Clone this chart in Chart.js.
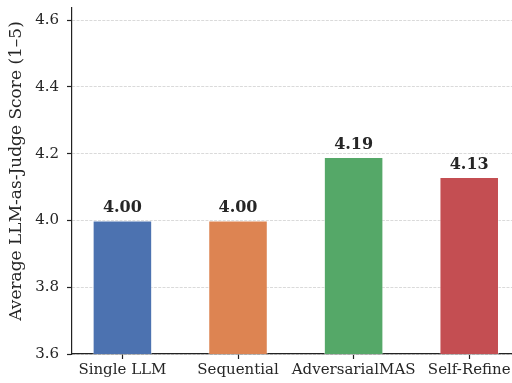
<!DOCTYPE html>
<html>
<head>
<meta charset="utf-8">
<script src="https://cdn.jsdelivr.net/npm/chart.js@4/dist/chart.umd.min.js"></script>
<style>
html,body{margin:0;padding:0;background:#fff;}
#wrap{width:512px;height:383px;position:relative;}
</style>
</head>
<body>
<div id="wrap"><canvas id="c" width="512" height="383"></canvas></div>
<script>
const categories = ["Single LLM", "Sequential", "AdversarialMAS", "Self-Refine"];
const scores = [4.00, 4.00, 4.19, 4.13];
const barColors = ["#4C72B0", "#DD8452", "#55A868", "#C44E52"];
const yTickValues = [3.6, 3.8, 4.0, 4.2, 4.4, 4.6];
const yTitle = "Average LLM-as-Judge Score (1\u20135)";

const FONT = "'DejaVu Serif', serif";
const TXT = "#262626";

const valueLabels = {
  id: "valueLabels",
  afterDatasetsDraw(chart) {
    const ctx = chart.ctx;
    const meta = chart.getDatasetMeta(0);
    ctx.save();
    ctx.font = "bold 16px " + FONT;
    ctx.fillStyle = TXT;
    ctx.textAlign = "center";
    ctx.textBaseline = "alphabetic";
    meta.data.forEach((bar, i) => {
      ctx.fillText(scores[i].toFixed(2), bar.x, bar.y - 8);
    });
    // y-axis title
    ctx.font = "17px " + FONT;
    ctx.textBaseline = "middle";
    ctx.translate(17, 171);
    ctx.rotate(-Math.PI / 2);
    ctx.fillText(yTitle, 0, 0);
    ctx.restore();
  }
};

new Chart(document.getElementById("c"), {
  type: "bar",
  data: {
    datasets: [{
      data: scores.map((v, i) => ({ x: i, y: v })),
      backgroundColor: barColors,
      borderColor: "rgba(255,255,255,0.5)",
      borderWidth: 1,
      barPercentage: 0.515,
      categoryPercentage: 1.0
    }]
  },
  options: {
    responsive: false,
    animation: false,
    devicePixelRatio: 1,
    layout: { padding: { top: 8, right: 0, left: 0, bottom: 0 } },
    plugins: { legend: { display: false }, tooltip: { enabled: false } },
    scales: {
      x: {
        type: "linear",
        offset: false,
        min: -0.436,
        max: 3.37,
        afterBuildTicks: s => { s.ticks = categories.map((_, i) => ({ value: i })); },
        afterFit: s => { s.height = 29; s.paddingLeft = 0; s.paddingRight = 0; s.paddingTop = 0; s.paddingBottom = 0; },
        ticks: {
          callback: v => categories[v],
          font: { family: FONT, size: 15 },
          color: TXT,
          padding: 2,
          maxRotation: 0,
          autoSkip: false
        },
        grid: { offset: false, drawOnChartArea: false, drawTicks: true, tickLength: 5, tickColor: "#222", tickWidth: 1.2 },
        border: { display: true, color: "#222", width: 1.2 }
      },
      y: {
        min: 3.6,
        max: 4.636,
        afterBuildTicks: s => { s.ticks = yTickValues.map(v => ({ value: v })); },
        afterFit: s => { s.width = 72; s.paddingLeft = 0; s.paddingRight = 0; s.paddingTop = 0; s.paddingBottom = 0; },
        ticks: {
          callback: v => Number(v).toFixed(1),
          font: { family: FONT, size: 15 },
          color: TXT,
          padding: 8
        },
        title: { display: false },
        grid: {
          drawOnChartArea: true,
          color: "#dadada",
          lineWidth: 1,
          tickLength: 5,
          tickColor: "#222",
          tickWidth: 1.2
        },
        border: { display: true, color: "#222", width: 1.2, dash: [3, 1.3] }
      }
    }
  },
  plugins: [valueLabels]
});
</script>
</body>
</html>
